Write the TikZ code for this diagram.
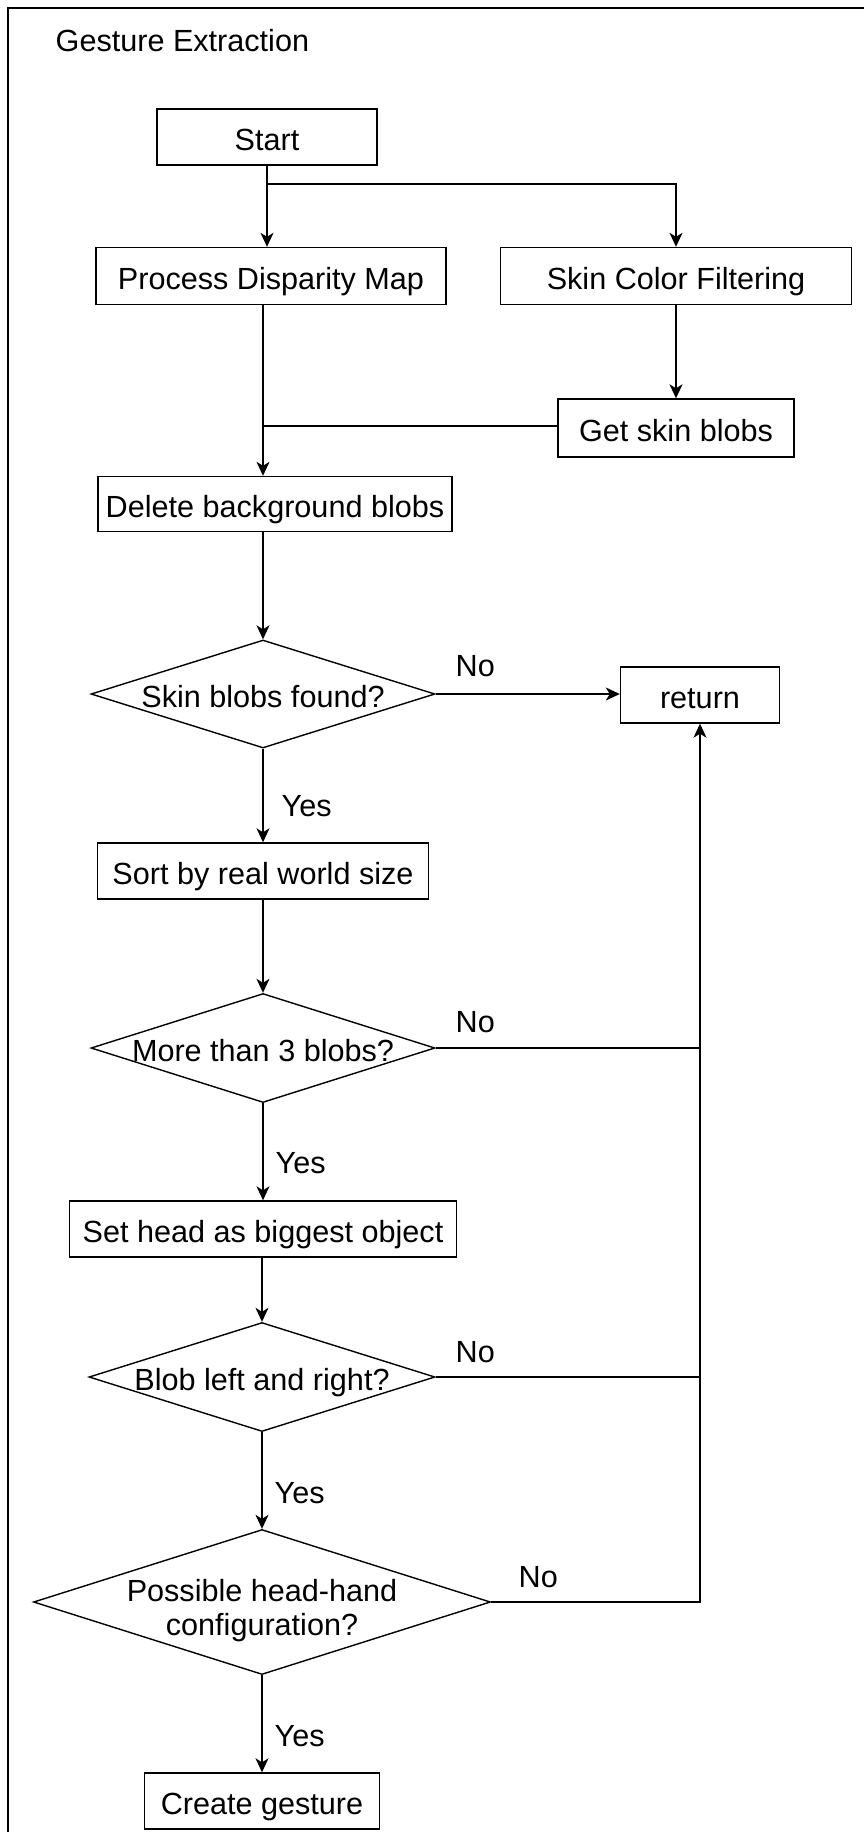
\documentclass[tikz,border=0pt]{standalone}
\usepackage{fontspec}
\setmainfont{Liberation Sans}
\usetikzlibrary{shapes.geometric,arrows.meta}

\begin{document}
\begin{tikzpicture}[x=1pt,y=-1pt,
  font=\fontsize{30.6}{34}\selectfont,
  line width=1.4pt,
  captext/.style={text height=26pt, text depth=0pt},
  stepbox/.style={draw, rectangle, inner sep=0pt, captext},
  decision/.style={draw, diamond, inner sep=0pt},
  lbl/.style={anchor=base west, inner sep=0pt},
  arr/.style={-{Stealth[length=14pt,width=13pt,inset=4pt]}},
  ln/.style={-}]

\useasboundingbox (0,0) rectangle (864,1832);

% outer frame (left and top edges run off the page)
\draw[line width=2pt] (7.5,1850) -- (7.5,7.5) -- (880,7.5);

\node[lbl] (title) at (55,51) {Gesture Extraction};

% process steps
\node[stepbox, minimum width=220, minimum height=56] (start) at (267,137) {Start};
\node[stepbox, minimum width=350, minimum height=57] (pdm) at (271,276) {Process Disparity Map};
\node[stepbox, minimum width=351, minimum height=57] (scf) at (676,276) {Skin Color Filtering};
\node[stepbox, minimum width=236, minimum height=58] (gsb) at (676,428) {Get skin blobs};
\node[stepbox, minimum width=354, minimum height=55] (dbb) at (275,504) {Delete background blobs};
\node[decision, minimum width=344, minimum height=108,
      label={[captext]center:Skin blobs found?}] (d1) at (263,694) {};
\node[stepbox, minimum width=159, minimum height=56] (ret) at (700,695) {return};
\node[stepbox, minimum width=331, minimum height=56] (sort) at (263,871) {Sort by real world size};
\node[decision, minimum width=344, minimum height=109,
      label={[captext]center:More than 3 blobs?}] (d2) at (263,1048) {};
\node[stepbox, minimum width=387, minimum height=56] (head) at (263,1229) {Set head as biggest object};
\node[decision, minimum width=346, minimum height=109,
      label={[captext]center:Blob left and right?}] (d3) at (262,1377) {};
\node[decision, minimum width=457, minimum height=145,
      label={[align=center, yshift=-9pt]center:Possible head-hand\\configuration?}] (d4) at (262,1602) {};
\node[stepbox, minimum width=235, minimum height=56] (cg) at (262,1801) {Create gesture};

% branch labels
\node[lbl] (no1) at (455,676) {No};
\node[lbl] (yes1) at (281,816) {Yes};
\node[lbl] (no2) at (455,1032) {No};
\node[lbl] (yes2) at (275,1173) {Yes};
\node[lbl] (no3) at (455,1362) {No};
\node[lbl] (yes3) at (274,1503) {Yes};
\node[lbl] (no4) at (518,1587) {No};
\node[lbl] (yes4) at (274,1746) {Yes};

% junction points
\coordinate (split) at (267,184);
\coordinate (merge) at (263,426);

% connectors
\draw[arr] (start.south) -- (split) -- (start.south |- pdm.north);
\draw[arr] (split) -| (scf.north);
\draw[arr] (scf.south) -- (gsb.north);
\draw[ln] (gsb.west |- merge) -- (merge);
\draw[arr] (pdm.south -| merge) -- (dbb.north -| merge);
\draw[arr] (dbb.south -| d1.north) -- (d1.north);
\draw[arr] (d1.east) -- (ret.west |- d1.east);
\draw[arr] (d1.south) -- (sort.north -| d1.south);
\draw[arr] (sort.south -| d2.north) -- (d2.north);
\draw[ln] (d2.east) -- (d2.east -| ret.south);
\draw[arr] (d2.south) -- (head.north -| d2.south);
\draw[arr] (head.south -| d3.north) -- (d3.north);
\draw[ln] (d3.east) -- (d3.east -| ret.south);
\draw[arr] (d3.south) -- (d4.north);
\draw[arr] (d4.east) -| (ret.south);
\draw[arr] (d4.south) -- (cg.north);

\end{tikzpicture}
\end{document}
